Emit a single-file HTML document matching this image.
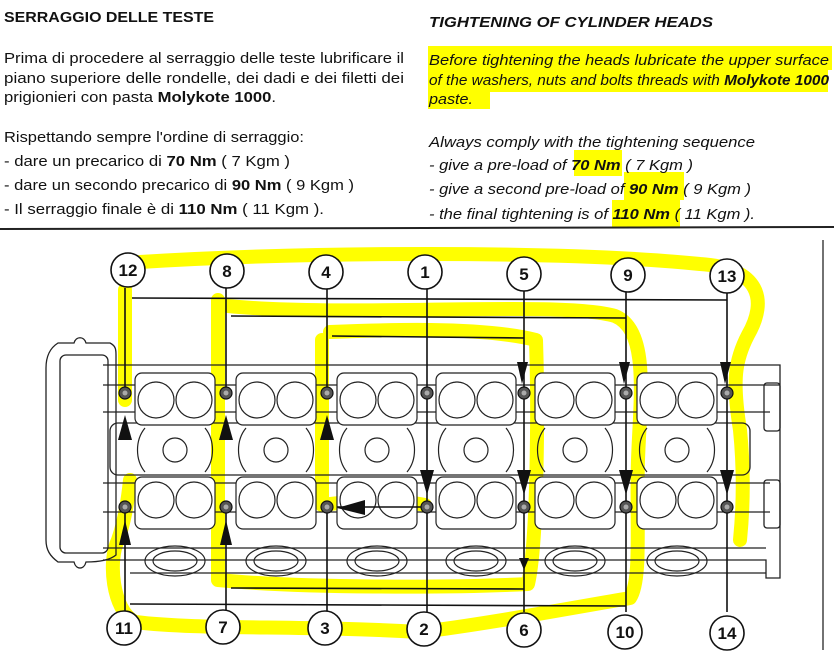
<!DOCTYPE html>
<html><head><meta charset="utf-8"><style>
html,body{margin:0;padding:0;background:#fff;width:834px;height:656px;overflow:hidden}
svg{display:block}
text{font-family:"Liberation Sans",sans-serif;fill:#111}
</style></head><body>
<svg width="834" height="656" viewBox="0 0 834 656" xmlns="http://www.w3.org/2000/svg">
<!-- text highlights -->
<g fill="#ffff00">
<rect x="428" y="46" width="404" height="24"/>
<rect x="428" y="67" width="400" height="25"/>
<rect x="428" y="88" width="62" height="21"/>
<rect x="574" y="150" width="48" height="26"/>
<rect x="624" y="172" width="60" height="28"/>
<rect x="612" y="200" width="68" height="28"/>
</g>
<text x="4" y="22" font-size="14.5" font-weight="bold" textLength="210" lengthAdjust="spacingAndGlyphs">SERRAGGIO DELLE TESTE</text>
<text x="4" y="63" font-size="15" textLength="400" lengthAdjust="spacingAndGlyphs">Prima di procedere al serraggio delle teste lubrificare il</text>
<text x="4" y="83" font-size="15" textLength="400" lengthAdjust="spacingAndGlyphs">piano superiore delle rondelle, dei dadi e dei filetti dei</text>
<text x="4" y="102" font-size="15" textLength="272" lengthAdjust="spacingAndGlyphs">prigionieri con pasta <tspan font-weight="bold">Molykote 1000</tspan>.</text>
<text x="4" y="142" font-size="15" textLength="300" lengthAdjust="spacingAndGlyphs">Rispettando sempre l'ordine di serraggio:</text>
<text x="4" y="166" font-size="15" textLength="286" lengthAdjust="spacingAndGlyphs">- dare un precarico di <tspan font-weight="bold">70 Nm</tspan> ( 7 Kgm )</text>
<text x="4" y="190" font-size="15" textLength="350" lengthAdjust="spacingAndGlyphs">- dare un secondo precarico di <tspan font-weight="bold">90 Nm</tspan> ( 9 Kgm )</text>
<text x="4" y="214" font-size="15" textLength="320" lengthAdjust="spacingAndGlyphs">- Il serraggio finale è di <tspan font-weight="bold">110 Nm</tspan> ( 11 Kgm ).</text>
<g font-style="italic">
<text x="429" y="27" font-size="14.5" font-weight="bold" textLength="284" lengthAdjust="spacingAndGlyphs">TIGHTENING OF CYLINDER HEADS</text>
<text x="429" y="65" font-size="15" textLength="400" lengthAdjust="spacingAndGlyphs">Before tightening the heads lubricate the upper surface</text>
<text x="429" y="85" font-size="15" textLength="400" lengthAdjust="spacingAndGlyphs">of the washers, nuts and bolts threads with <tspan font-weight="bold">Molykote 1000</tspan></text>
<text x="429" y="104" font-size="15" textLength="44" lengthAdjust="spacingAndGlyphs">paste.</text>
<text x="429" y="147" font-size="15" textLength="326" lengthAdjust="spacingAndGlyphs">Always comply with the tightening sequence</text>
<text x="429" y="170" font-size="15" textLength="264" lengthAdjust="spacingAndGlyphs">- give a pre-load of <tspan font-weight="bold">70 Nm</tspan> ( 7 Kgm )</text>
<text x="429" y="194" font-size="15" textLength="322" lengthAdjust="spacingAndGlyphs">- give a second pre-load of <tspan font-weight="bold">90 Nm</tspan> ( 9 Kgm )</text>
<text x="429" y="219" font-size="15" textLength="326" lengthAdjust="spacingAndGlyphs">- the final tightening is of <tspan font-weight="bold">110 Nm</tspan> ( 11 Kgm ).</text>
</g>
<line x1="0" y1="229" x2="834" y2="227" stroke="#222" stroke-width="2"/>
<line x1="823" y1="240" x2="823" y2="650" stroke="#444" stroke-width="1.5"/>

<!-- yellow marker strokes -->
<g fill="none" stroke="#ffff00" stroke-width="14" stroke-linecap="round" stroke-linejoin="round">
<path d="M140,262 C300,252 560,250 700,264 C760,268 768,300 748,335 C735,360 732,380 740,430 C745,480 742,520 740,540"/>
<path d="M125,290 L125,400"/>
<path d="M228,306 C350,318 560,300 615,316 C650,330 640,400 638,460 C636,520 642,580 630,598 C560,610 480,625 420,632 C300,625 200,630 135,622 C112,610 108,560 118,540 C125,520 128,500 130,480"/>
<path d="M218,300 L218,580 C300,588 450,588 528,584 C538,540 538,400 536,340 C480,326 380,330 330,332"/>
<path d="M322,340 L322,505 C360,500 400,500 425,505"/>
</g>

<g fill="none" stroke="#222" stroke-width="1.3">
<!-- left end cap -->
<path d="M58,343 L74,343 C76,336 84,336 86,343 L110,343 C116,346 116,350 116,355 L116,555 C110,560 100,562 86,562 C84,570 76,570 74,562 L58,562 C50,556 46,550 46,540 L46,368 C46,356 50,348 58,343 Z"/>
<rect x="60" y="355" width="48" height="198" rx="6"/>
<!-- head body -->
<path d="M103,365 L780,365 L780,578 L766,578 L766,560 L103,560"/>
<line x1="103" y1="385" x2="780" y2="385"/>
<line x1="103" y1="412" x2="770" y2="412"/>
<line x1="103" y1="483" x2="770" y2="483"/>
<line x1="103" y1="512" x2="770" y2="512"/>
<line x1="103" y1="548" x2="766" y2="548"/>
<line x1="130" y1="573" x2="766" y2="573"/>
<rect x="110" y="423" width="640" height="52" rx="8"/>
<rect x="764" y="383" width="16" height="48" rx="3"/>
<rect x="764" y="480" width="16" height="48" rx="3"/>
</g>

<defs>
<g id="cell" fill="none" stroke="#222" stroke-width="1.2">
<rect x="-40" y="373" width="80" height="52" rx="7" fill="#fff"/>
<circle cx="-19" cy="400" r="18"/><circle cx="19" cy="400" r="18"/>
<rect x="-40" y="477" width="80" height="52" rx="7" fill="#fff"/>
<circle cx="-19" cy="500" r="18"/><circle cx="19" cy="500" r="18"/>
<circle cx="0" cy="450" r="12"/>
<path d="M-30,428 C-40,440 -40,460 -30,472 M30,428 C40,440 40,460 30,472"/>
<ellipse cx="0" cy="561" rx="30" ry="15"/>
<ellipse cx="0" cy="561" rx="22" ry="10"/>
</g>
<g id="bolt"><circle r="6" fill="#555" stroke="#111" stroke-width="1.2"/><circle r="2.5" fill="#aaa"/></g>
</defs>
<use href="#cell" x="175"/><use href="#cell" x="276"/><use href="#cell" x="377"/>
<use href="#cell" x="476"/><use href="#cell" x="575"/><use href="#cell" x="677"/>

<!-- connector lines -->
<g fill="none" stroke="#111" stroke-width="1.6">
<path d="M125,288 L125,393 M125,507 L125,612"/>
<path d="M226,288 L226,393 M226,507 L226,612"/>
<path d="M327,288 L327,393 M327,507 L327,612"/>
<path d="M427,288 L427,507 L427,612"/>
<path d="M524,288 L524,393 L524,507 L524,612"/>
<path d="M626,288 L626,393 L626,507 L626,612"/>
<path d="M727,288 L727,393 L727,507 M727,507 L727,612"/>
<path d="M132,298 L727,300"/>
<path d="M231,316 L626,318"/>
<path d="M332,336 L524,338"/>
<path d="M231,588 L524,589"/>
<path d="M130,604 L626,606"/>
<path d="M337,507 L427,507"/>
</g>
<!-- arrowheads -->
<g fill="#111">
<path d="M125,415 L118,440 L132,440 Z"/><path d="M226,415 L219,440 L233,440 Z"/><path d="M327,415 L320,440 L334,440 Z"/>
<path d="M125,520 L119,545 L131,545 Z"/><path d="M226,520 L220,545 L232,545 Z"/>
<path d="M427,495 L420,470 L434,470 Z"/><path d="M524,495 L517,470 L531,470 Z"/><path d="M626,495 L619,470 L633,470 Z"/><path d="M727,495 L720,470 L734,470 Z"/>
<path d="M522,384 L517,362 L528,362 Z"/><path d="M624,384 L619,362 L630,362 Z"/><path d="M725,384 L720,362 L731,362 Z"/>
<path d="M524,570 L519,558 L529,558 Z"/>
<path d="M337,508 L365,500 L365,515 Z"/>
</g>
<g>
<use href="#bolt" x="125" y="393"/><use href="#bolt" x="226" y="393"/><use href="#bolt" x="327" y="393"/><use href="#bolt" x="427" y="393"/><use href="#bolt" x="524" y="393"/><use href="#bolt" x="626" y="393"/><use href="#bolt" x="727" y="393"/>
<use href="#bolt" x="125" y="507"/><use href="#bolt" x="226" y="507"/><use href="#bolt" x="327" y="507"/><use href="#bolt" x="427" y="507"/><use href="#bolt" x="524" y="507"/><use href="#bolt" x="626" y="507"/><use href="#bolt" x="727" y="507"/>
</g>
<!-- number circles -->
<g fill="#fff" stroke="#111" stroke-width="1.6">
<circle cx="128" cy="270" r="17"/><circle cx="227" cy="271" r="17"/><circle cx="326" cy="272" r="17"/><circle cx="425" cy="272" r="17"/><circle cx="524" cy="274" r="17"/><circle cx="628" cy="275" r="17"/><circle cx="727" cy="276" r="17"/>
<circle cx="124" cy="628" r="17"/><circle cx="223" cy="627" r="17"/><circle cx="325" cy="628" r="17"/><circle cx="424" cy="629" r="17"/><circle cx="524" cy="630" r="17"/><circle cx="625" cy="632" r="17"/><circle cx="727" cy="633" r="17"/>
</g>
<g font-size="17" font-weight="bold" text-anchor="middle">
<text x="128" y="276">12</text><text x="227" y="277">8</text><text x="326" y="278">4</text><text x="425" y="278">1</text><text x="524" y="280">5</text><text x="628" y="281">9</text><text x="727" y="282">13</text>
<text x="124" y="634">11</text><text x="223" y="633">7</text><text x="325" y="634">3</text><text x="424" y="635">2</text><text x="524" y="636">6</text><text x="625" y="638">10</text><text x="727" y="639">14</text>
</g>
</svg>
</body></html>
